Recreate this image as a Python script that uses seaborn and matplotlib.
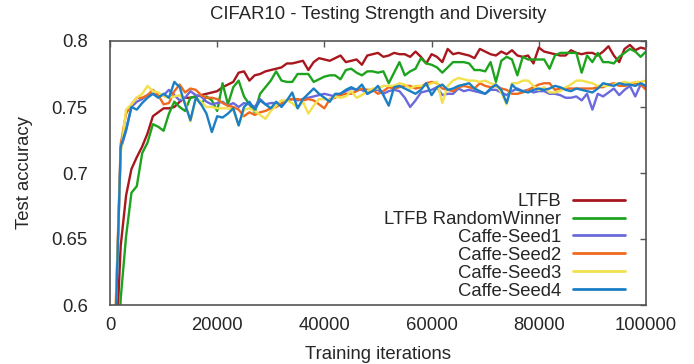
import numpy as np
import pandas as pd
import seaborn as sns
import matplotlib
matplotlib.use('Agg')
import matplotlib.pyplot as plt

# training iterations (one evaluation every 1000 iterations)
iters = list(range(1000, 100001, 1000))

ltfb = [0.555, 0.645, 0.683, 0.703, 0.712, 0.720, 0.730, 0.743, 0.746, 0.749,
        0.749, 0.750, 0.754, 0.757, 0.757, 0.758, 0.759, 0.760, 0.761, 0.762,
        0.765, 0.767, 0.769, 0.776, 0.777, 0.770, 0.774, 0.775, 0.777, 0.778,
        0.779, 0.780, 0.783, 0.783, 0.784, 0.785, 0.778, 0.784, 0.787, 0.786,
        0.785, 0.787, 0.789, 0.784, 0.785, 0.786, 0.782, 0.789, 0.790, 0.791,
        0.788, 0.789, 0.791, 0.790, 0.790, 0.788, 0.792, 0.788, 0.783, 0.790,
        0.788, 0.784, 0.794, 0.790, 0.791, 0.790, 0.789, 0.787, 0.794, 0.792,
        0.790, 0.789, 0.792, 0.790, 0.793, 0.789, 0.788, 0.789, 0.783, 0.795,
        0.792, 0.791, 0.790, 0.789, 0.789, 0.793, 0.791, 0.790, 0.791, 0.791,
        0.789, 0.792, 0.796, 0.789, 0.784, 0.794, 0.797, 0.793, 0.795, 0.794]

ltfb_rw = [0.500, 0.605, 0.652, 0.685, 0.690, 0.715, 0.723, 0.737, 0.735, 0.732,
           0.745, 0.754, 0.750, 0.747, 0.757, 0.758, 0.752, 0.758, 0.755, 0.747,
           0.768, 0.752, 0.765, 0.770, 0.758, 0.752, 0.746, 0.760, 0.765, 0.770,
           0.777, 0.770, 0.769, 0.769, 0.775, 0.775, 0.775, 0.769, 0.771, 0.773,
           0.774, 0.774, 0.771, 0.778, 0.779, 0.776, 0.774, 0.777, 0.777, 0.776,
           0.777, 0.768, 0.776, 0.784, 0.774, 0.777, 0.779, 0.787, 0.783, 0.782,
           0.780, 0.776, 0.780, 0.784, 0.784, 0.784, 0.783, 0.778, 0.778, 0.777,
           0.784, 0.769, 0.785, 0.788, 0.786, 0.774, 0.788, 0.786, 0.786, 0.786,
           0.786, 0.779, 0.789, 0.791, 0.791, 0.791, 0.791, 0.776, 0.789, 0.784,
           0.791, 0.784, 0.784, 0.783, 0.788, 0.791, 0.794, 0.792, 0.788, 0.792]

seed1 = [0.580, 0.718, 0.732, 0.750, 0.754, 0.756, 0.759, 0.760, 0.758, 0.759,
         0.763, 0.759, 0.755, 0.757, 0.762, 0.759, 0.758, 0.754, 0.752, 0.753,
         0.754, 0.751, 0.753, 0.750, 0.753, 0.752, 0.750, 0.756, 0.752, 0.753,
         0.753, 0.752, 0.755, 0.756, 0.755, 0.756, 0.757, 0.758, 0.759, 0.760,
         0.759, 0.758, 0.760, 0.762, 0.764, 0.763, 0.763, 0.760, 0.763, 0.763,
         0.760, 0.762, 0.763, 0.762, 0.757, 0.750, 0.755, 0.761, 0.762, 0.763,
         0.765, 0.759, 0.760, 0.760, 0.764, 0.762, 0.763, 0.762, 0.761, 0.760,
         0.763, 0.763, 0.761, 0.759, 0.762, 0.764, 0.762, 0.763, 0.761, 0.762,
         0.762, 0.760, 0.760, 0.759, 0.757, 0.757, 0.758, 0.755, 0.760, 0.748,
         0.760, 0.758, 0.761, 0.764, 0.759, 0.763, 0.766, 0.758, 0.767, 0.765]

seed2 = [0.590, 0.722, 0.745, 0.752, 0.757, 0.757, 0.759, 0.763, 0.759, 0.752,
         0.753, 0.762, 0.767, 0.761, 0.764, 0.763, 0.759, 0.757, 0.757, 0.756,
         0.753, 0.751, 0.750, 0.748, 0.743, 0.746, 0.744, 0.746, 0.747, 0.749,
         0.750, 0.753, 0.755, 0.756, 0.756, 0.755, 0.756, 0.755, 0.752, 0.749,
         0.756, 0.757, 0.759, 0.760, 0.760, 0.762, 0.764, 0.763, 0.763, 0.760,
         0.762, 0.765, 0.764, 0.765, 0.766, 0.766, 0.764, 0.765, 0.768, 0.769,
         0.768, 0.764, 0.763, 0.762, 0.765, 0.766, 0.765, 0.764, 0.768, 0.766,
         0.765, 0.766, 0.764, 0.763, 0.760, 0.760, 0.761, 0.763, 0.765, 0.767,
         0.768, 0.768, 0.763, 0.764, 0.764, 0.764, 0.764, 0.764, 0.764, 0.764,
         0.765, 0.765, 0.767, 0.768, 0.766, 0.766, 0.767, 0.768, 0.767, 0.763]

seed3 = [0.590, 0.715, 0.748, 0.752, 0.757, 0.760, 0.766, 0.762, 0.761, 0.758,
         0.757, 0.758, 0.759, 0.754, 0.739, 0.756, 0.754, 0.750, 0.750, 0.749,
         0.749, 0.749, 0.748, 0.736, 0.748, 0.749, 0.747, 0.744, 0.741, 0.747,
         0.751, 0.755, 0.755, 0.753, 0.749, 0.754, 0.745, 0.751, 0.756, 0.756,
         0.755, 0.758, 0.757, 0.758, 0.762, 0.757, 0.759, 0.762, 0.764, 0.764,
         0.766, 0.766, 0.766, 0.768, 0.767, 0.764, 0.766, 0.766, 0.766, 0.768,
         0.769, 0.753, 0.766, 0.770, 0.772, 0.771, 0.770, 0.770, 0.769, 0.770,
         0.768, 0.767, 0.761, 0.752, 0.768, 0.768, 0.770, 0.770, 0.766, 0.763,
         0.765, 0.761, 0.761, 0.762, 0.765, 0.767, 0.770, 0.770, 0.769, 0.768,
         0.766, 0.766, 0.766, 0.767, 0.768, 0.769, 0.768, 0.769, 0.769, 0.770]

seed4 = [0.580, 0.720, 0.733, 0.750, 0.748, 0.753, 0.757, 0.760, 0.757, 0.760,
         0.757, 0.769, 0.765, 0.752, 0.740, 0.757, 0.752, 0.745, 0.731, 0.743,
         0.742, 0.745, 0.749, 0.736, 0.750, 0.754, 0.748, 0.755, 0.752, 0.749,
         0.754, 0.750, 0.755, 0.761, 0.749, 0.756, 0.760, 0.764, 0.760, 0.757,
         0.754, 0.760, 0.760, 0.763, 0.765, 0.763, 0.767, 0.760, 0.762, 0.766,
         0.759, 0.751, 0.765, 0.766, 0.764, 0.762, 0.760, 0.763, 0.768, 0.759,
         0.765, 0.767, 0.763, 0.764, 0.766, 0.767, 0.768, 0.764, 0.762, 0.760,
         0.764, 0.767, 0.763, 0.753, 0.767, 0.763, 0.762, 0.761, 0.763, 0.764,
         0.763, 0.764, 0.766, 0.765, 0.763, 0.762, 0.764, 0.763, 0.762, 0.761,
         0.764, 0.768, 0.767, 0.766, 0.768, 0.767, 0.767, 0.766, 0.768, 0.766]

names = ['LTFB', 'LTFB RandomWinner', 'Caffe-Seed1', 'Caffe-Seed2', 'Caffe-Seed3', 'Caffe-Seed4']
colors = ['#a8171e', '#1ea31e', '#6a6adc', '#f06a1e', '#f2e04c', '#1a7fc4']
series = [ltfb, ltfb_rw, seed1, seed2, seed3, seed4]

df = pd.concat([pd.DataFrame({'iter': iters, 'acc': s, 'run': n}) for n, s in zip(names, series)])

sns.set_style('white')
plt.rcParams['font.family'] = ['Liberation Sans', 'DejaVu Sans']
plt.rcParams['font.size'] = 13.3

fig = plt.figure(figsize=(6.94, 3.64), dpi=100)
ax = fig.add_axes([110/694, 1 - 305/364, 536/694, 264/364])

sns.lineplot(ax=ax, data=df, x='iter', y='acc', hue='run', hue_order=names,
             palette=dict(zip(names, colors)), linewidth=1.7)

ax.set_xlim(0, 100000)
ax.set_ylim(0.6, 0.8)
ax.set_xticks(range(0, 100001, 20000))
ax.set_yticks([0.6, 0.65, 0.7, 0.75, 0.8])
ax.set_yticklabels(['0.6', '0.65', '0.7', '0.75', '0.8'])
ax.tick_params(direction='in', length=4.5, width=1, color='#555555',
               top=True, right=True, labelsize=13.3)
ax.tick_params(axis='x', pad=9)
ax.tick_params(axis='y', pad=16)
for sp in ax.spines.values():
    sp.set_color('#555555')
    sp.set_linewidth(1.2)

ax.set_xlabel('Training iterations', fontsize=13.3, labelpad=8)
ax.set_ylabel('Test accuracy', fontsize=13.3, labelpad=13)
ax.set_title('CIFAR10 - Testing Strength and Diversity', fontsize=13.3, pad=15.5)

leg = ax.legend(loc='lower right', bbox_to_anchor=(0.961, 0.02), markerfirst=False,
                frameon=False, handlelength=2.8, handletextpad=0.65,
                labelspacing=0.05, borderpad=0, borderaxespad=0, fontsize=13.3)
for line in leg.get_lines():
    line.set_linewidth(2)

fig.savefig('out.png', dpi=100)
